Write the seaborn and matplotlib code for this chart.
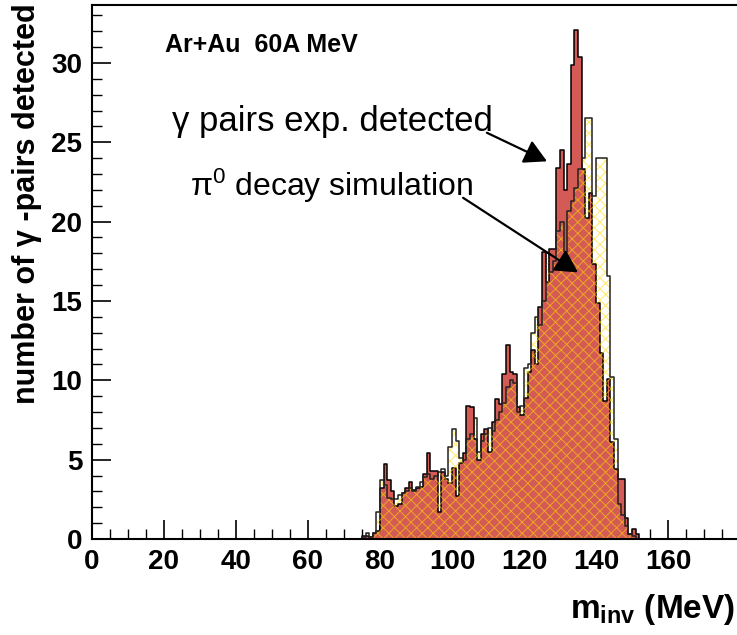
import numpy as np
import pandas as pd
import matplotlib.pyplot as plt
import seaborn as sns
from matplotlib.ticker import MultipleLocator

# 1 MeV bins, left edges 74 ... 151 MeV
bin_lo = list(range(74, 152))

# experimental gamma pairs (red, solid)
exp_counts = [
    0.0, 0.2, 0.2, 0.1, 0.4, 0.5, 3.2, 4.7, 3.7, 3.0,   # 74-83
    2.1, 2.2, 2.9, 3.2, 3.6, 3.1, 3.2, 3.3, 4.1, 5.4,   # 84-93
    4.3, 4.3, 1.7, 4.2, 3.8, 3.5, 4.5, 2.7, 4.8, 5.4,   # 94-103
    8.4, 8.3, 6.3, 5.0, 6.6, 6.9, 5.5, 7.4, 8.8, 8.5,   # 104-113
    10.4, 12.2, 10.5, 10.4, 8.3, 7.8, 8.9, 10.5, 11.9, 11.0,  # 114-123
    14.6, 18.1, 16.2, 18.3, 18.3, 23.4, 24.5, 22.0, 23.6, 29.9,  # 124-133
    32.1, 30.4, 23.3, 20.2, 21.8, 17.3, 14.9, 11.7, 8.7, 10.1,  # 134-143
    6.1, 4.4, 3.8, 3.8, 1.3, 0.3, 0.6, 0.3,             # 144-151
]

# pi0 decay simulation (hatched)
sim_counts = [
    0.0, 0.1, 0.4, 0.1, 0.4, 1.7, 3.7, 3.4, 2.6, 2.5,
    2.5, 2.8, 2.9, 3.0, 3.2, 3.0, 3.3, 3.6, 3.9, 4.1,
    3.8, 4.0, 4.2, 4.4, 4.0, 5.8, 6.9, 6.2, 5.1, 5.0,
    6.3, 6.6, 7.6, 5.5, 6.2, 6.6, 7.0, 6.8, 7.5, 8.0,
    8.6, 9.6, 10.0, 9.8, 8.0, 8.4, 10.8, 11.0, 13.0, 14.0,
    13.5, 15.0, 18.0, 16.8, 17.5, 19.4, 20.0, 18.1, 20.7, 21.3,
    22.1, 23.3, 24.0, 26.5, 26.5, 21.6, 24.0, 24.0, 24.0, 16.6,
    10.2, 6.3, 2.2, 1.5, 0.8, 0.3, 0.2, 0.0,
]

x_ticks = [0, 20, 40, 60, 80, 100, 120, 140, 160]
y_ticks = [0, 5, 10, 15, 20, 25, 30]


def main():
    sns.set_style("ticks")
    plt.rcParams["font.family"] = ["Liberation Sans", "DejaVu Sans"]
    plt.rcParams["mathtext.default"] = "regular"
    plt.rcParams["hatch.linewidth"] = 0.7
    for key in ["text.color", "axes.labelcolor", "xtick.color", "ytick.color"]:
        plt.rcParams[key] = "black"

    df = pd.DataFrame({
        "m": np.array(bin_lo) + 0.5,
        "exp": exp_counts,
        "sim": sim_counts,
    })
    edges = [float(e) for e in range(bin_lo[0], bin_lo[-1] + 2)]

    fig = plt.figure(figsize=(7.37, 6.35), dpi=100)
    ax = fig.add_axes([0.1248, 0.1512, 0.8792, 0.8409])

    # experiment: red filled step histogram
    sns.histplot(data=df, x="m", weights="exp", bins=edges, element="step",
                 fill=True, color="#d35a55", facecolor="#d35a55",
                 edgecolor="black", linewidth=1.1, ax=ax)
    # simulation: yellow cross hatch on top
    sns.histplot(data=df, x="m", weights="sim", bins=edges, element="step",
                 fill=True, color="white", facecolor="none",
                 edgecolor=(1.0, 0.85, 0.0, 0.6), hatch="xxx",
                 linewidth=0, ax=ax)
    sns.histplot(data=df, x="m", weights="sim", bins=edges, element="step",
                 fill=False, color="#222222", linewidth=1.1, ax=ax)

    ax.set_xlim(0, 180)
    ax.set_ylim(0, 33.65)
    ax.set_xlabel("")
    ax.set_ylabel("")
    ax.set_xticks(x_ticks)
    ax.set_yticks(y_ticks)
    ax.xaxis.set_minor_locator(MultipleLocator(5))
    ax.yaxis.set_minor_locator(MultipleLocator(1))
    ax.tick_params(which="major", direction="in", length=14, width=1.2,
                   labelsize=20, pad=7, top=False, right=False,
                   color="black", labelcolor="black")
    ax.tick_params(which="minor", direction="in", length=7, width=1.0,
                   top=False, right=False, color="black")
    for lab in ax.get_xticklabels() + ax.get_yticklabels():
        lab.set_fontweight("bold")
    for sp in ax.spines.values():
        sp.set_linewidth(1.5)
        sp.set_color("black")

    # texts and arrows
    ax.text(20.3, 31.1, "Ar+Au  60A MeV", fontsize=18, fontweight="bold",
            va="center", ha="left", color="black")
    ax.text(22.2, 25.7, "γ pairs exp. detected", fontsize=25,
            va="baseline", ha="left", color="black")
    ax.text(27.2, 21.6, "π$^{0}$ decay simulation", fontsize=23,
            va="baseline", ha="left", color="black")

    arrow = dict(arrowstyle="-|>,head_length=0.55,head_width=0.3",
                 mutation_scale=25, color="black", lw=1.6,
                 shrinkA=0, shrinkB=0)
    ax.annotate("", xy=(126.4, 23.8), xytext=(109.7, 25.6), arrowprops=arrow)
    ax.annotate("", xy=(135.0, 16.8), xytext=(103.1, 21.5), arrowprops=arrow)

    fig.text(27 / 737, 1 - 3 / 635, "number of γ -pairs detected",
             rotation=90, ha="center", va="top", fontsize=22,
             fontweight="bold", color="black")
    fig.text(0.997, 0.027, "m$_{inv}$ (MeV)", ha="right", va="baseline",
             fontsize=24, fontweight="bold", color="black")

    fig.savefig("out.png", dpi=100)


if __name__ == "__main__":
    main()
